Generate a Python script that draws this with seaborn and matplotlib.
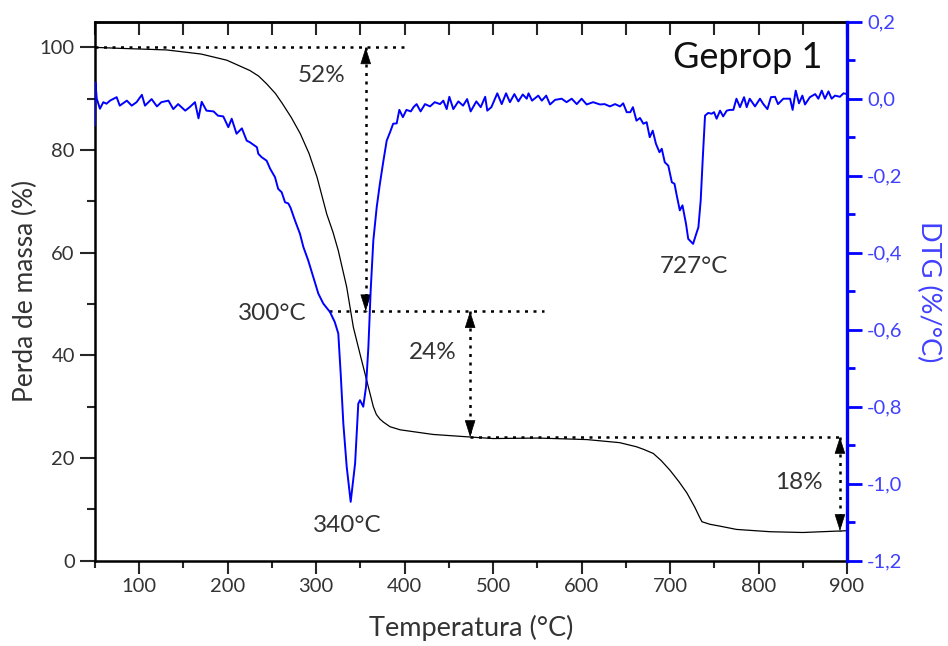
import seaborn as sns
import matplotlib.pyplot as plt
from matplotlib.ticker import MultipleLocator, FuncFormatter

# TGA (mass %)
tga_temp = [50, 80, 131, 170, 199, 225, 235, 244, 254, 262, 272, 282, 292, 301, 312, 319, 325,
            334.5, 342, 349.5, 357, 364.6, 368, 372, 376, 383.5, 395, 432, 474, 500, 550, 606,
            643, 662, 670, 681, 690, 700, 710, 719, 728, 733, 736, 745, 756, 775, 813, 850, 900]
tga_mass = [100, 99.8, 99.5, 98.7, 97.5, 95.5, 94.4, 92.9, 91.0, 89.0, 86.3, 83.2, 79.3, 74.7,
            67.5, 64.0, 60.4, 53.3, 45.5, 40.3, 35.2, 30.0, 28.5, 27.6, 27.0, 26.1, 25.5, 24.6,
            24.1, 23.8, 23.9, 23.6, 23.0, 22.2, 21.7, 20.9, 19.5, 17.6, 15.4, 13.2, 10.4, 8.6,
            7.6, 7.1, 6.75, 6.1, 5.65, 5.5, 5.85]

# DTG (%/°C)
dtg_temp = [50, 50.5, 52, 55.6, 59.4, 63, 67, 74.5, 78, 86, 91.5, 97, 103, 106.5, 114, 120, 125,
            133, 138.5, 144, 152, 157, 163, 167, 170.6, 176, 184, 189, 195, 200.7, 204.5, 210,
            216, 221.5, 225, 233, 234.6, 238.4, 244, 248, 253.5, 257, 261, 264.8, 268.5, 271,
            276, 281.7, 285.5, 291, 296.7, 302.4, 308, 315.6, 321, 325, 327.7, 330.7, 334.5,
            339, 344, 347.6, 349.5, 353.2, 356.3, 359, 361.6, 364.6, 368.4, 372, 376, 379.7,
            383.5, 387, 391, 394, 398, 402, 407, 410, 413.5, 418, 423, 428.7, 434, 440, 443.7,
            447.5, 450.5, 455, 460.7, 466, 470.6, 474.6, 481, 486, 491, 493.4, 498, 504.7,
            509.7, 514.6, 519, 524, 528.5, 533.5, 538, 540, 544, 551, 555, 560, 564.3, 570,
            577.5, 583, 588.8, 594.5, 600, 605.7, 613, 620.8, 626, 632, 637.8, 643.4, 647, 651,
            655, 658, 662, 666, 669.8, 673.5, 677, 680.4, 684, 688, 690.6, 694, 698, 702, 705,
            707.5, 711, 714, 718, 720.5, 726, 729, 732, 734.6, 737, 739.5, 743, 747, 749.7,
            752.6, 756.5, 760, 764, 767.7, 771.5, 775, 779, 783.6, 786.6, 790, 796, 801.6,
            805.4, 810, 814, 818.6, 822, 828, 835.6, 838.5, 842, 845.7, 849.5, 852.5, 858, 864,
            867.6, 871.4, 875, 879, 882.6, 886.4, 892, 896, 900]
dtg_value = [-0.07, 0.042, 0.0, -0.026, -0.009, -0.013, -0.005, 0.004, -0.018, -0.005, -0.018,
             -0.009, 0.01, -0.018, -0.001, -0.02, -0.009, -0.005, -0.027, -0.014, -0.031, -0.022,
             -0.009, -0.051, -0.008, -0.031, -0.033, -0.044, -0.046, -0.074, -0.052, -0.091,
             -0.077, -0.109, -0.113, -0.126, -0.143, -0.152, -0.161, -0.182, -0.204, -0.234,
             -0.243, -0.269, -0.272, -0.283, -0.316, -0.351, -0.385, -0.42, -0.463, -0.506,
             -0.532, -0.554, -0.58, -0.61, -0.714, -0.844, -0.956, -1.047, -0.947, -0.792,
             -0.783, -0.8, -0.749, -0.645, -0.498, -0.368, -0.282, -0.221, -0.161, -0.109,
             -0.087, -0.065, -0.064, -0.029, -0.048, -0.029, -0.033, -0.022, -0.014, -0.033,
             -0.014, -0.02, -0.009, -0.014, -0.005, -0.027, 0.005, -0.027, -0.007, -0.018,
             -0.001, -0.033, -0.007, -0.022, 0.005, -0.031, -0.022, 0.014, -0.014, 0.014,
             -0.009, 0.012, -0.007, 0.011, 0.0, 0.014, -0.005, 0.008, -0.005, 0.008, -0.015,
             -0.003, 0.0, -0.009, 0.0, -0.014, 0.0, -0.015, -0.009, -0.015, -0.014, -0.02,
             -0.014, -0.02, -0.012, -0.035, -0.035, -0.022, -0.057, -0.05, -0.065, -0.061, -0.1,
             -0.083, -0.117, -0.139, -0.13, -0.165, -0.174, -0.217, -0.221, -0.251, -0.29,
             -0.277, -0.325, -0.364, -0.377, -0.355, -0.334, -0.264, -0.152, -0.044, -0.037,
             -0.039, -0.035, -0.052, -0.031, -0.046, -0.031, -0.029, -0.029, 0.0, -0.022, 0.004,
             -0.022, 0.0, -0.02, 0.0, -0.014, -0.027, 0.004, 0.005, -0.014, 0.0, 0.0, -0.029,
             0.021, -0.012, 0.008, -0.015, 0.004, 0.012, 0.0, 0.021, 0.0, 0.019, 0.0, 0.008,
             0.005, 0.014, 0.012]

# mass-loss step guides (temperature, mass)
guide_h = [((50, 400), 100), ((315, 558), 48.6), ((474, 892), 24.1)]
guide_v = [(356, 100, 48.6), (474, 48.6, 24.1), (892, 24.1, 5.8)]
labels = [("52%", 306, 94.5), ("300°C", 250, 48.2), ("24%", 432, 40.6),
          ("340°C", 335, 6.9), ("727°C", 727, 57.3), ("18%", 846, 15.3)]

sns.set_style("ticks")
plt.rcParams['font.family'] = ['Lato', 'DejaVu Sans']
txt = '#333333'
blue = '#0000ff'
lblue = '#4040ff'

fig, ax = plt.subplots(figsize=(9.48, 6.46), dpi=100)
fig.subplots_adjust(left=0.1002, right=0.8935, top=0.9664, bottom=0.132)

sns.lineplot(x=tga_temp, y=tga_mass, ax=ax, color='black', linewidth=0.9)
ax.set_xlim(50, 900)
ax.set_ylim(0, 105)
ax.xaxis.set_major_locator(MultipleLocator(100))
ax.xaxis.set_minor_locator(MultipleLocator(50))
ax.yaxis.set_major_locator(MultipleLocator(20))
ax.yaxis.set_minor_locator(MultipleLocator(10))
ax.tick_params(which='major', direction='out', length=9, width=1.5, labelsize=14.5, labelcolor=txt)
ax.tick_params(which='minor', direction='out', length=5, width=1.5)
ax.tick_params(axis='y', which='major', length=11)
ax.tick_params(axis='y', which='minor', length=6)
for s in ['left', 'bottom', 'top']:
    ax.spines[s].set_linewidth(1.8)
    ax.spines[s].set_color('black')
ax.set_xlabel("Temperatura (°C)", fontsize=19.5, color=txt, labelpad=14)
ax.set_ylabel("Perda de massa (%)", fontsize=19, color=txt, labelpad=1)

top = ax.secondary_xaxis('top')
top.xaxis.set_major_locator(MultipleLocator(50))
top.tick_params(direction='in', length=9, width=1.5, labeltop=False)
top.spines['top'].set_linewidth(1.8)

# dotted guides and arrows
for (x0, x1), y in guide_h:
    ax.plot([x0, x1], [y, y], color='black', linestyle=(0, (1.2, 2.2)), linewidth=1.8)
for x, y0, y1 in guide_v:
    ax.plot([x, x], [y0, y1], color='black', linestyle=(0, (1.2, 2.2)), linewidth=1.8)
    for yend, ystart in [(y0, y0 - 3), (y1, y1 + 3)]:
        ax.annotate('', xy=(x, yend), xytext=(x, ystart),
                    arrowprops=dict(arrowstyle='-|>,head_length=1.1,head_width=0.35',
                                    color='black', lw=0.5, shrinkA=0, shrinkB=0))

for s, x, y in labels:
    ax.text(x, y, s, fontsize=17.5, color=txt, ha='center', va='center')
ax.text(788, 98, "Geprop 1", fontsize=26, color='#111111', ha='center', va='center')

ax2 = ax.twinx()
sns.lineplot(x=dtg_temp, y=dtg_value, ax=ax2, color=blue, linewidth=1.4)
ax2.set_ylim(-1.2, 0.2)
ax2.yaxis.set_major_locator(MultipleLocator(0.2))
ax2.yaxis.set_minor_locator(MultipleLocator(0.1))
ax2.yaxis.set_major_formatter(FuncFormatter(lambda v, p: f"{v:.1f}".replace('.', ',').replace('-0,0', '0,0')))
ax2.tick_params(axis='y', which='major', direction='out', length=11, width=2, color=blue,
                labelsize=14.5, labelcolor=lblue)
ax2.tick_params(axis='y', which='minor', direction='out', length=6, width=2, color=blue)
ax2.spines['right'].set_color(blue)
ax2.spines['right'].set_linewidth(2.4)
for s in ['left', 'top', 'bottom']:
    ax2.spines[s].set_visible(False)
ax2.set_ylabel("DTG (%/°C)", fontsize=19.5, color=lblue, rotation=270, labelpad=28)

plt.savefig("out.png", dpi=100)
